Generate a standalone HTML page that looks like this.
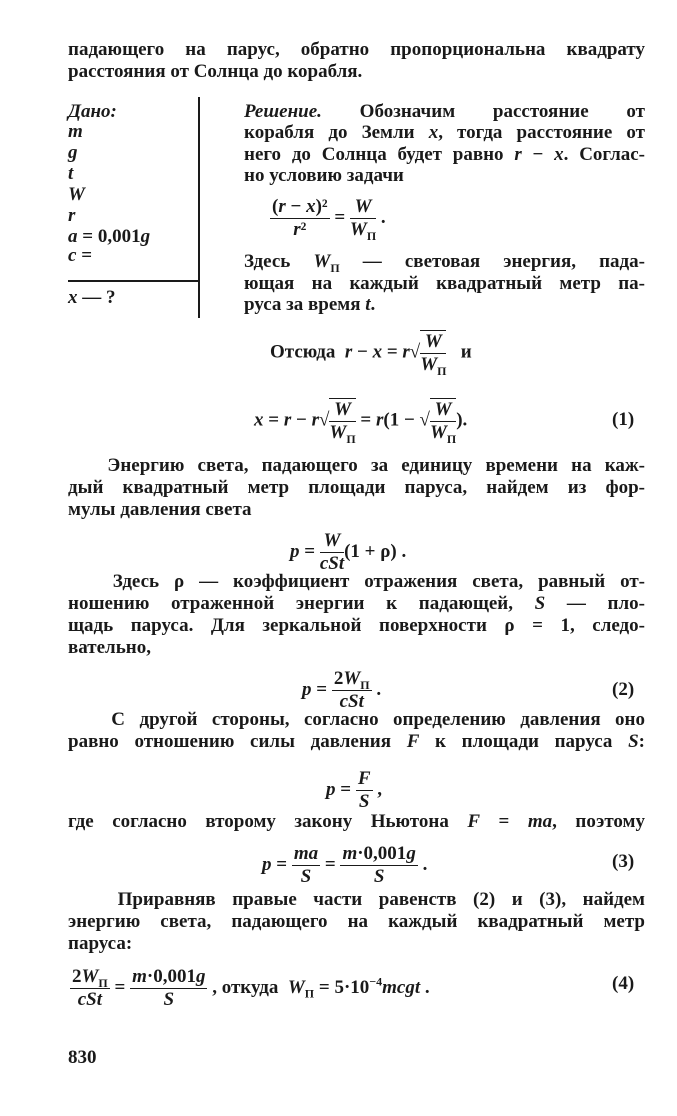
<!DOCTYPE html>
<html><head><meta charset="utf-8"><style>
body{margin:0;background:#fff;}
#p{position:relative;width:677px;height:1116px;overflow:hidden;font-family:"Liberation Serif",serif;font-weight:bold;font-size:19px;color:#1a1a1a;}
.l{position:absolute;line-height:24px;white-space:nowrap;}
.j{text-align:justify;text-align-last:justify;white-space:normal;}
i{font-style:italic;}
.fr{display:inline-block;vertical-align:middle;text-align:center;}
.fr span{display:block;line-height:22px;}
.fr .n{border-bottom:1.5px solid #1a1a1a;padding:0 2px;}
sub,sup{line-height:0;}
</style></head><body><div id="p">
<div class="l j" style="left:68px;width:577px;top:38px">падающего на парус, обратно пропорциональна квадрату</div>
<div class="l" style="left:68px;top:60px">расстояния от Солнца до корабля.</div>

<div class="l" style="left:68px;top:100px"><i>Дано:</i></div>
<div class="l" style="left:68px;top:120px"><i>m</i></div>
<div class="l" style="left:68px;top:141px"><i>g</i></div>
<div class="l" style="left:68px;top:162px"><i>t</i></div>
<div class="l" style="left:68px;top:183px"><i>W</i></div>
<div class="l" style="left:68px;top:204px"><i>r</i></div>
<div class="l" style="left:68px;top:225px"><i>a</i> = 0,001<i>g</i></div>
<div class="l" style="left:68px;top:244px"><i>c</i> =</div>
<div style="position:absolute;left:68px;top:280px;width:130px;height:1.5px;background:#1a1a1a"></div>
<div class="l" style="left:68px;top:286px"><i>x</i> — ?</div>
<div style="position:absolute;left:198px;top:97px;width:1.5px;height:221px;background:#1a1a1a"></div>

<div class="l j" style="left:244px;width:401px;top:100px"><i>Решение.</i> Обозначим расстояние от</div>
<div class="l j" style="left:244px;width:401px;top:121px">корабля до Земли <i>x</i>, тогда расстояние от</div>
<div class="l j" style="left:244px;width:401px;top:143px">него до Солнца будет равно <i>r</i> − <i>x</i>. Соглас-</div>
<div class="l" style="left:244px;top:164px">но условию задачи</div>
<div class="l" style="left:270px;top:196px"><span class="fr"><span class="n">(<i>r</i> − <i>x</i>)²</span><span><i>r</i>²</span></span> = <span class="fr"><span class="n"><i>W</i></span><span><i>W</i><sub style="font-size:12px">П</sub></span></span> .</div>
<div class="l j" style="left:244px;width:401px;top:250px">Здесь <i>W</i><sub style="font-size:12px">П</sub> — световая энергия, пада-</div>
<div class="l j" style="left:244px;width:401px;top:272px">ющая на каждый квадратный метр па-</div>
<div class="l" style="left:244px;top:293px">руса за время <i>t</i>.</div>

<div class="l" style="left:270px;top:330px">Отсюда &nbsp;<i>r</i> − <i>x</i> = <i>r</i>√<span class="fr" style="border-top:1.5px solid #1a1a1a"><span class="n"><i>W</i></span><span><i>W</i><sub style="font-size:12px">П</sub></span></span> &nbsp;&nbsp;и</div>
<div class="l" style="left:254px;top:398px"><i>x</i> = <i>r</i> − <i>r</i>√<span class="fr" style="border-top:1.5px solid #1a1a1a"><span class="n"><i>W</i></span><span><i>W</i><sub style="font-size:12px">П</sub></span></span> = <i>r</i>(1 − √<span class="fr" style="border-top:1.5px solid #1a1a1a"><span class="n"><i>W</i></span><span><i>W</i><sub style="font-size:12px">П</sub></span></span>).</div>
<div class="l" style="left:612px;top:408px">(1)</div>

<div class="l j" style="left:68px;width:577px;top:454px">&nbsp;&nbsp;&nbsp;Энергию света, падающего за единицу времени на каж-</div>
<div class="l j" style="left:68px;width:577px;top:476px">дый квадратный метр площади паруса, найдем из фор-</div>
<div class="l" style="left:68px;top:498px">мулы давления света</div>
<div class="l" style="left:290px;top:530px"><i>p</i> = <span class="fr"><span class="n"><i>W</i></span><span><i>cSt</i></span></span>(1 + ρ) .</div>
<div class="l j" style="left:68px;width:577px;top:570px">&nbsp;&nbsp;&nbsp;Здесь ρ — коэффициент отражения света, равный от-</div>
<div class="l j" style="left:68px;width:577px;top:592px">ношению отраженной энергии к падающей, <i>S</i> — пло-</div>
<div class="l j" style="left:68px;width:577px;top:614px">щадь паруса. Для зеркальной поверхности ρ = 1, следо-</div>
<div class="l" style="left:68px;top:636px">вательно,</div>
<div class="l" style="left:302px;top:668px"><i>p</i> = <span class="fr"><span class="n">2<i>W</i><sub style="font-size:12px">П</sub></span><span><i>cSt</i></span></span> .</div>
<div class="l" style="left:612px;top:678px">(2)</div>
<div class="l j" style="left:68px;width:577px;top:708px">&nbsp;&nbsp;&nbsp;С другой стороны, согласно определению давления оно</div>
<div class="l j" style="left:68px;width:577px;top:730px">равно отношению силы давления <i>F</i> к площади паруса <i>S</i>:</div>
<div class="l" style="left:326px;top:768px"><i>p</i> = <span class="fr"><span class="n"><i>F</i></span><span><i>S</i></span></span> ,</div>
<div class="l j" style="left:68px;width:577px;top:810px">где согласно второму закону Ньютона <i>F</i> = <i>ma</i>, поэтому</div>
<div class="l" style="left:262px;top:843px"><i>p</i> = <span class="fr"><span class="n"><i>ma</i></span><span><i>S</i></span></span> = <span class="fr"><span class="n"><i>m</i>·0,001<i>g</i></span><span><i>S</i></span></span> .</div>
<div class="l" style="left:612px;top:850px">(3)</div>
<div class="l j" style="left:68px;width:577px;top:888px">&nbsp;&nbsp;&nbsp;Приравняв правые части равенств (2) и (3), найдем</div>
<div class="l j" style="left:68px;width:577px;top:910px">энергию света, падающего на каждый квадратный метр</div>
<div class="l" style="left:68px;top:932px">паруса:</div>
<div class="l" style="left:70px;top:966px"><span class="fr"><span class="n">2<i>W</i><sub style="font-size:12px">П</sub></span><span><i>cSt</i></span></span> = <span class="fr"><span class="n"><i>m</i>·0,001<i>g</i></span><span><i>S</i></span></span> , откуда &nbsp;<i>W</i><sub style="font-size:12px">П</sub> = 5·10<sup style="font-size:12px">−4</sup><i>mcgt</i> .</div>
<div class="l" style="left:612px;top:972px">(4)</div>
<div class="l" style="left:68px;top:1046px">830</div>
</div></body></html>
